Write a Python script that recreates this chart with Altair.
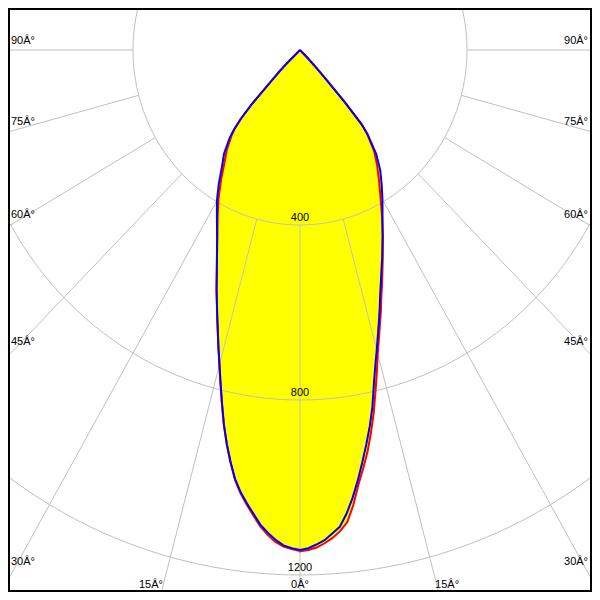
import math
import numpy as np
import pandas as pd
import altair as alt

# ---- data: luminous intensity (cd) against gamma angle (deg) ----
gamma = [0, 1, 2, 3, 4, 5, 6, 7, 8, 9, 10, 11, 12, 13, 14, 15, 16, 17, 18, 19, 20,
         22.5, 25, 27.5, 30, 32.5, 35, 37.5, 40, 41, 42, 43, 44, 45, 46, 47, 50, 60, 70, 80, 90]
blue_left = [1143, 1139, 1133, 1121, 1106, 1089, 1066, 1044, 1021, 993, 957, 918, 876, 830, 786,
             745, 708, 673, 641, 611, 584,
             520, 470, 431, 398, 362, 326, 299, 262, 242, 213, 171, 105, 72, 45, 0, 0, 0, 0, 0, 0]
blue_right = [1143, 1139, 1131, 1122, 1108, 1094, 1066, 1032, 994, 954, 915, 876, 834, 786, 745,
              710, 677, 647, 618, 590, 566,
              514, 468, 428, 395, 364, 335, 300, 252, 225, 160, 90, 55, 25, 0, 0, 0, 0, 0, 0, 0]
red_left = [1145, 1141, 1136, 1126, 1111, 1093, 1070, 1047, 1023, 995, 958, 919, 877, 831, 787,
            746, 709, 674, 642, 612, 585,
            520, 468, 427, 390, 352, 316, 288, 255, 238, 210, 168, 103, 70, 43, 0, 0, 0, 0, 0, 0]
red_right = [1146, 1143, 1138, 1129, 1118, 1104, 1085, 1048, 1004, 968, 932, 891, 849, 803, 761,
             719, 686, 655, 627, 598, 574,
             518, 470, 425, 385, 352, 322, 292, 250, 225, 162, 92, 56, 26, 0, 0, 0, 0, 0, 0, 0]

rings = [400, 800, 1200]
ring_labels = ["400", "800", "1200"]
side_angles = [30, 45, 60, 75, 90]
side_labels = ["30Â°", "45Â°", "60Â°", "75Â°", "90Â°"]
bottom_label_0 = "0Â°"
bottom_label_15 = "15Â°"
spoke_step = 15

# ---- layout ----
W = H = 584
OFF = 8
PX0, PY0 = 300, 50          # page position of the pole
SX, SY = 0.4175, 0.4375     # pixels per cd, horizontal / vertical

xs = alt.Scale(domain=[(OFF - PX0) / SX, (OFF + W - PX0) / SX], nice=False, zero=False)
ys = alt.Scale(domain=[(PY0 - OFF - H) / SY, (PY0 - OFF) / SY], nice=False, zero=False)

def X(f="x"):
    return alt.X(f"{f}:Q", scale=xs, axis=None)

def Y(f="y"):
    return alt.Y(f"{f}:Q", scale=ys, axis=None)

# ---- curves ----
rows = []
for name, left, right in [("red", red_left, red_right), ("blue", blue_left, blue_right)]:
    for side, vals, sign in [("L", left, -1), ("R", right, 1)]:
        for g, v in zip(gamma, vals):
            t = math.radians(g)
            rows.append(dict(series=name, key=name + side,
                             x=sign * v * math.sin(t), y=-v * math.cos(t), zero=0.0,
                             seq=(g if sign > 0 else -g - 0.001)))
curves = pd.DataFrame(rows)

fill = alt.Chart(curves).mark_area(orient="horizontal", color="#ffff00", opacity=1).encode(
    x=X(), x2=alt.X2("zero:Q"), y=Y(), detail="key:N")

def outline(name, color):
    return alt.Chart(curves[curves.series == name]).mark_line(
        color=color, strokeWidth=2, clip=True).encode(
        x=X(), y=Y(), order=alt.Order("seq:Q"))

# ---- grid ----
circ = []
for r in rings:
    for a in np.arange(0, 361, 2):
        t = math.radians(a)
        circ.append(dict(r=r, a=a, x=r * math.sin(t), y=-r * math.cos(t)))
circ = pd.DataFrame(circ)
circles = alt.Chart(circ).mark_line(color="#c0c0c0", strokeWidth=1, clip=True).encode(
    x=X(), y=Y(), detail="r:N", order=alt.Order("a:Q"))

sp = []
for a in range(-180, 180, spoke_step):
    t = math.radians(a)
    for r in [rings[0], 4000]:
        sp.append(dict(ang=a, r=r, x=r * math.sin(t), y=-r * math.cos(t)))
sp = pd.DataFrame(sp)
spokes = alt.Chart(sp).mark_line(color="#c0c0c0", strokeWidth=1, clip=True).encode(
    x=X(), y=Y(), detail="ang:N", order=alt.Order("r:Q"))

# ---- labels ----
FONT = dict(font="Liberation Sans", fontSize=11, color="#000000")

ring_df = pd.DataFrame(dict(x=[0.0] * len(rings), y=[-r for r in rings], label=ring_labels))
ring_text = alt.Chart(ring_df).mark_text(align="center", baseline="middle", dy=-7, **FONT).encode(
    x=X(), y=Y(), text="label:N")

xl = (13 - PX0) / SX
xr = (587 - PX0) / SX
left_df = pd.DataFrame(dict(
    x=[xl] * len(side_angles),
    y=[-abs(xl) / math.tan(math.radians(a)) for a in side_angles],
    label=side_labels))
right_df = pd.DataFrame(dict(
    x=[xr] * len(side_angles),
    y=[-abs(xr) / math.tan(math.radians(a)) for a in side_angles],
    label=side_labels))
left_text = alt.Chart(left_df).mark_text(align="left", baseline="middle", dx=-2, dy=-9, **FONT).encode(
    x=X(), y=Y(), text="label:N")
right_text = alt.Chart(right_df).mark_text(align="right", baseline="middle", dx=1, dy=-9, **FONT).encode(
    x=X(), y=Y(), text="label:N")

yb = (PY0 - 598) / SY
xb15 = -yb * math.tan(math.radians(15))
b0 = pd.DataFrame(dict(x=[0.0], y=[yb], label=[bottom_label_0]))
bl = pd.DataFrame(dict(x=[-xb15], y=[yb], label=[bottom_label_15]))
br = pd.DataFrame(dict(x=[xb15], y=[yb], label=[bottom_label_15]))
b0_text = alt.Chart(b0).mark_text(align="center", baseline="middle", dy=-13, **FONT).encode(
    x=X(), y=Y(), text="label:N")
bl_text = alt.Chart(bl).mark_text(align="right", baseline="middle", dx=3, dy=-13, **FONT).encode(
    x=X(), y=Y(), text="label:N")
br_text = alt.Chart(br).mark_text(align="left", baseline="middle", dx=-5, dy=-13, **FONT).encode(
    x=X(), y=Y(), text="label:N")

# ---- frame ----
one = pd.DataFrame({"k": [0]})
def vrule(px):
    return alt.Chart(one).mark_rule(color="#000000", strokeWidth=2).encode(
        x=alt.value(px), y=alt.value(0), y2=alt.value(H))
def hrule(py):
    return alt.Chart(one).mark_rule(color="#000000", strokeWidth=2).encode(
        x=alt.value(0), x2=alt.value(W), y=alt.value(py))

chart = alt.layer(
    fill, circles, spokes, ring_text, left_text, right_text, b0_text, bl_text, br_text,
    outline("red", "#ff0000"), outline("blue", "#0000ff"),
    vrule(1), vrule(W - 1), hrule(1), hrule(H - 1)
).properties(
    width=W, height=H, padding=0, autosize=alt.AutoSizeParams(type="none"), background="#ffffff"
).configure_view(stroke=None)

chart.save("out.html", embed_options={"renderer": "svg", "actions": False})
